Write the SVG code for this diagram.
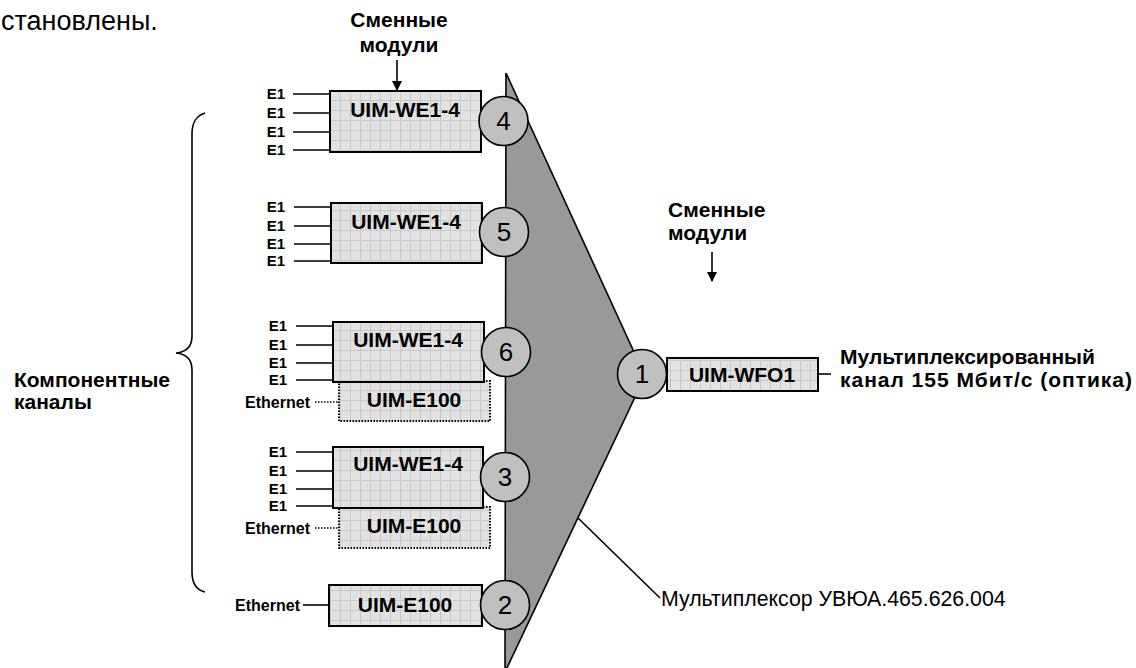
<svg xmlns="http://www.w3.org/2000/svg" width="1136" height="668" viewBox="0 0 1136 668">
<style>
text{font-family:"Liberation Sans",Arial,sans-serif;fill:#000}
.b{font-weight:bold;font-size:21px}
.lbl{font-size:21px;font-weight:bold;text-anchor:middle}
.e1{font-size:15px;font-weight:bold;text-anchor:end}
.eth{font-size:16px;font-weight:bold;text-anchor:end}
.num{font-size:26px;text-anchor:middle}
.box{fill:url(#grid);stroke:#000;stroke-width:2}
.dbox{fill:url(#grid);stroke:#000;stroke-width:2;stroke-dasharray:1.5 1.5}
.circ{fill:#c0c0c0;stroke:#000;stroke-width:1.6}
.ln{stroke:#000;stroke-width:1.6;fill:none}
.dl{stroke:#000;stroke-width:1.6;stroke-dasharray:1.5 1.5;fill:none}
</style>
<defs>
<pattern id="grid" width="10" height="10" patternUnits="userSpaceOnUse">
<rect width="10" height="10" fill="#e2e2e2"/>
<path d="M0 0.5H10M0.5 0V10" stroke="#c9c9c9" stroke-width="1"/>
</pattern>
<marker id="arr" markerWidth="10" markerHeight="10" refX="9" refY="5" orient="auto" markerUnits="userSpaceOnUse">
<path d="M0 0L10 5L0 10Z" fill="#000"/>
</marker>
</defs>
<rect width="1136" height="668" fill="#fff"/>

<text x="1" y="30" font-size="27">становлены.</text>

<g id="mux">
<polygon points="506,73 645,376 505,672" fill="#999" stroke="#000" stroke-width="1.6"/>
</g>

<g id="brace">
<path class="ln" d="M205 113 C196 116 192 122 192 134 L192 336 C192 346 187 352 176 353 C187 354 192 360 192 370 L192 572 C192 584 196 590 205 592" stroke-width="2"/>
</g>

<text class="b" x="14" y="387">Компонентные</text>
<text class="b" x="14" y="409">каналы</text>

<g id="connectors">
<line class="ln" x1="397" y1="60" x2="397" y2="90" marker-end="url(#arr)"/>
<line class="ln" x1="712" y1="252" x2="712" y2="281" marker-end="url(#arr)"/>
<path class="ln" d="M293 94H330M293 113H330M293 132H330M293 150H330"/>
<path class="ln" d="M294 207H331M294 226H331M294 244H331M294 261H331"/>
<path class="ln" d="M296 326H333M296 345H333M296 363H333M296 380H333"/>
<path class="ln" d="M296 452H333M296 471H333M296 489H333M296 506H333"/>
<path class="dl" d="M315 402H338M315 528H338"/>
<path class="ln" d="M303 605H329"/>
<path class="ln" d="M818 374H831"/>
<path class="ln" d="M578 518L660 598"/>
</g>

<text class="b" x="399" y="27" text-anchor="middle">Сменные</text>
<text class="b" x="399" y="52" text-anchor="middle">модули</text>
<text class="b" x="668" y="217">Сменные</text>
<text class="b" x="668" y="240">модули</text>

<g id="m4">
<rect class="box" x="330" y="91" width="151" height="61"/>
<text class="lbl" x="405" y="117">UIM-WE1-4</text>
<text class="e1" x="285" y="99">E1</text>
<text class="e1" x="285" y="118">E1</text>
<text class="e1" x="285" y="137">E1</text>
<text class="e1" x="285" y="155">E1</text>
<circle class="circ" cx="503.5" cy="121" r="24.5"/>
<text class="num" x="503.5" y="130">4</text>
</g>

<g id="m5">
<rect class="box" x="331" y="203" width="151" height="60"/>
<text class="lbl" x="406" y="229">UIM-WE1-4</text>
<text class="e1" x="285" y="212">E1</text>
<text class="e1" x="285" y="231">E1</text>
<text class="e1" x="285" y="249">E1</text>
<text class="e1" x="285" y="266">E1</text>
<circle class="circ" cx="504" cy="232" r="24.5"/>
<text class="num" x="504" y="241">5</text>
</g>

<g id="m6">
<rect class="dbox" x="339" y="381" width="151" height="40"/>
<text class="lbl" x="414" y="407">UIM-E100</text>
<text class="eth" x="310" y="408">Ethernet</text>
<rect class="box" x="333" y="322" width="151" height="60"/>
<text class="lbl" x="408" y="347">UIM-WE1-4</text>
<text class="e1" x="287" y="331">E1</text>
<text class="e1" x="287" y="350">E1</text>
<text class="e1" x="287" y="368">E1</text>
<text class="e1" x="287" y="385">E1</text>
<circle class="circ" cx="506" cy="352" r="24.5"/>
<text class="num" x="506" y="361">6</text>
</g>

<g id="m3">
<rect class="dbox" x="339" y="507" width="151" height="41"/>
<text class="lbl" x="414" y="533">UIM-E100</text>
<text class="eth" x="310" y="534">Ethernet</text>
<rect class="box" x="333" y="447" width="150" height="61"/>
<text class="lbl" x="408" y="471">UIM-WE1-4</text>
<text class="e1" x="287" y="457">E1</text>
<text class="e1" x="287" y="476">E1</text>
<text class="e1" x="287" y="494">E1</text>
<text class="e1" x="287" y="511">E1</text>
<circle class="circ" cx="505" cy="477" r="24.5"/>
<text class="num" x="505" y="486">3</text>
</g>

<g id="m2">
<rect class="box" x="329" y="585" width="153" height="41"/>
<text class="lbl" x="405" y="612">UIM-E100</text>
<text class="eth" x="300" y="611">Ethernet</text>
<circle class="circ" cx="505" cy="605" r="24.5"/>
<text class="num" x="505" y="614">2</text>
</g>

<g id="m1">
<rect class="box" x="667" y="358" width="151" height="33"/>
<text class="lbl" x="742" y="382">UIM-WFO1</text>
<circle class="circ" cx="642" cy="374" r="24.5"/>
<text class="num" x="642" y="383">1</text>
</g>

<text class="b" x="840" y="364">Мультиплексированный</text>
<text class="b" x="840" y="387" textLength="292">канал 155 Мбит/с (оптика)</text>
<text x="661" y="606" font-size="21.3">Мультиплексор УВЮА.465.626.004</text>
</svg>
